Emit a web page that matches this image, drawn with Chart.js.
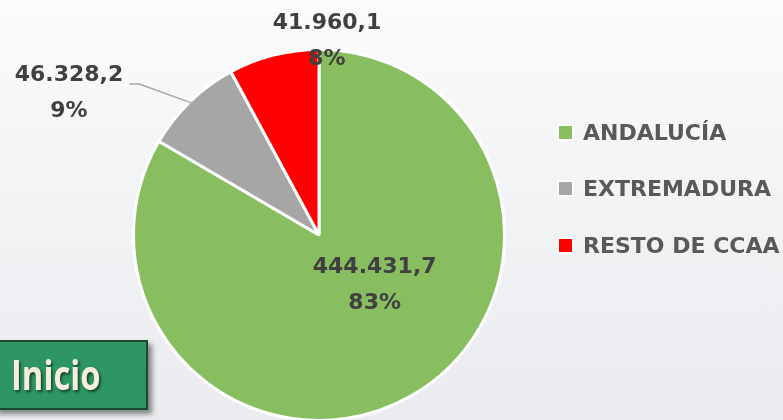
<!DOCTYPE html>
<html>
<head>
<meta charset="utf-8">
<script src="https://cdn.jsdelivr.net/npm/chart.js@4"></script>
<style>
  html, body { margin: 0; padding: 0; }
  body {
    width: 783px; height: 420px; overflow: hidden; position: relative;
    background: linear-gradient(180deg, #fbfbfc 0%, #f1f2f4 55%, #e9ebee 100%);
  }
  #wrap { position: absolute; left: 0; top: 0; width: 783px; height: 430px; }
  .legend { position: absolute; left: 557px; top: 0; }
  .legend-item { position: absolute; left: 0; height: 24px; display: flex; align-items: center; white-space: nowrap; }
  .legend-item .box { width: 17px; height: 17px; border: 2px solid #fff; box-sizing: border-box; margin-right: 9px; }
  .legend-item span { font: bold 22px "DejaVu Sans", sans-serif; color: #595959; }
  .btn {
    position: absolute; left: -6px; top: 340px; width: 154px; height: 70px; box-sizing: border-box;
    background: #2e9663; border: 2px solid #1a4a2b;
    box-shadow: 4px 4px 5px rgba(0,0,0,0.45);
    padding-left: 15px;
  }
  .btn span {
    display: inline-block; transform: scaleX(0.8); transform-origin: left center;
    font: bold 41px "Open Sans", sans-serif; color: #f6eedc;
    text-shadow: 2px 2px 3px rgba(0,0,0,0.55);
    line-height: 64px;
  }
</style>
</head>
<body>
<div id="wrap"><canvas id="pie" width="783" height="430"></canvas></div>
<div class="legend" id="legend"></div>
<div class="btn"><span>Inicio</span></div>
<script>
// datos
const labels = ['ANDALUCÍA', 'EXTREMADURA', 'RESTO DE CCAA'];
const values = [444431.7, 46328.2, 41960.1];
const colors = ['#88bd60', '#a6a6a6', '#ff0000'];

// label placement relative to pie centre, in units of radius
const labelPos = [[0.30, 0.273], [-1.348, -0.765], [0.043, -1.045]];

function fmt(v) {
  const parts = v.toFixed(1).split('.');
  parts[0] = parts[0].replace(/\B(?=(\d{3})+(?!\d))/g, '.');
  return parts.join(',');
}

const total = values.reduce((a, b) => a + b, 0);

// legend
const legend = document.getElementById('legend');
labels.forEach((l, i) => {
  const item = document.createElement('div');
  item.className = 'legend-item';
  item.style.top = (120 + i * 56.5) + 'px';
  item.innerHTML = `<div class="box" style="background:${colors[i]}"></div><span>${l}</span>`;
  legend.appendChild(item);
});

const dataLabels = {
  id: 'dataLabels',
  afterDatasetsDraw(chart) {
    const ctx = chart.ctx;
    const arcs = chart.getDatasetMeta(0).data;
    ctx.save();
    ctx.font = 'bold 22px "DejaVu Sans", sans-serif';
    ctx.fillStyle = '#404040';
    ctx.textAlign = 'center';
    ctx.textBaseline = 'middle';
    arcs.forEach((arc, i) => {
      const r = arc.outerRadius;
      const cx = arc.x + labelPos[i][0] * r;
      const cy = arc.y + labelPos[i][1] * r;
      const l1 = fmt(values[i]);
      const l2 = Math.round(values[i] / total * 100) + '%';
      ctx.fillText(l1, cx, cy - 18);
      ctx.fillText(l2, cx, cy + 18);
      // leader line for the label that sits outside the slice
      if (i === 1) {
        const mid = (arc.startAngle + arc.endAngle) / 2;
        const w = ctx.measureText(l1).width;
        const x0 = cx + w / 2 + 6;
        const y0 = cy - 9;
        ctx.strokeStyle = '#a6a6a6';
        ctx.lineWidth = 1.5;
        ctx.beginPath();
        ctx.moveTo(x0, y0);
        ctx.lineTo(x0 + 10, y0);
        ctx.lineTo(arc.x + Math.cos(mid) * r * 0.99, arc.y + Math.sin(mid) * r * 0.99);
        ctx.stroke();
      }
    });
    ctx.restore();
  }
};

new Chart(document.getElementById('pie'), {
  type: 'pie',
  data: {
    labels: labels,
    datasets: [{
      data: values,
      backgroundColor: colors,
      borderColor: '#ffffff',
      borderWidth: 3
    }]
  },
  options: {
    responsive: false,
    animation: false,
    layout: { padding: { left: 132, right: 277, top: 48, bottom: 8 } },
    plugins: {
      legend: { display: false },
      tooltip: { enabled: false }
    }
  },
  plugins: [dataLabels]
});
</script>
</body>
</html>
